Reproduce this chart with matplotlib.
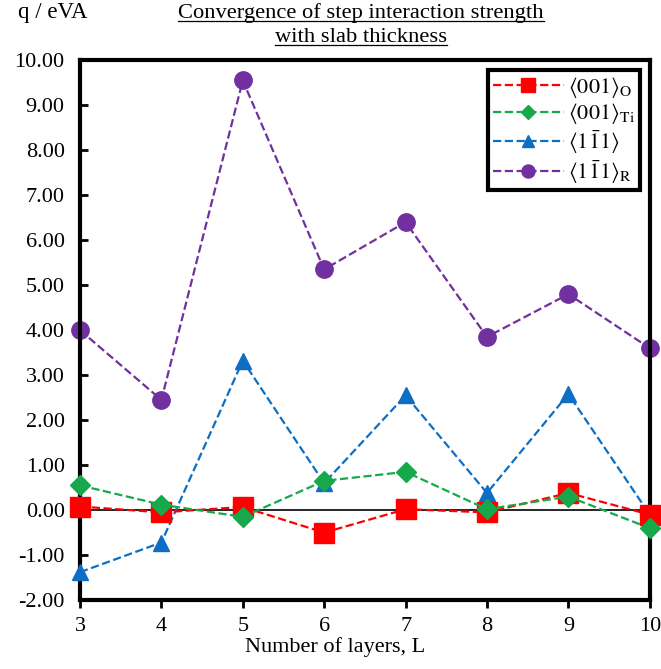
import matplotlib
matplotlib.use('Agg')
import matplotlib.pyplot as plt
from matplotlib.lines import Line2D

layers = [3, 4, 5, 6, 7, 8, 9, 10]
q_001_O = [0.08, -0.05, 0.07, -0.50, 0.02, -0.05, 0.38, -0.10]
q_001_Ti = [0.55, 0.12, -0.15, 0.65, 0.85, 0.02, 0.30, -0.40]
q_1b11 = [-1.38, -0.72, 3.32, 0.60, 2.55, 0.38, 2.58, -0.10]
q_1b11_R = [4.00, 2.45, 9.55, 5.35, 6.40, 3.85, 4.80, 3.60]

labels = [r'$\langle 001\rangle_{\mathrm{O}}$', r'$\langle 001\rangle_{\mathrm{Ti}}$',
          r'$\langle 1\bar{1}1\rangle$', r'$\langle 1\bar{1}1\rangle_{\mathrm{R}}$']
yticks = [-2, -1, 0, 1, 2, 3, 4, 5, 6, 7, 8, 9, 10]

plt.rcParams['font.family'] = ['Liberation Serif', 'DejaVu Serif']
plt.rcParams['mathtext.fontset'] = 'stix'


def main():
    fig = plt.figure(figsize=(6.61, 6.69), dpi=100)
    ax = fig.add_axes([0.121, 0.103, 0.862, 0.807])

    ax.axhline(0, color='black', lw=1.2, zorder=1)
    ax.plot(layers, q_001_O, ls='--', color='#ff0000', marker='s', ms=14, lw=1.6, label=labels[0], zorder=4)
    ax.plot(layers, q_001_Ti, ls='--', color='#16a84a', marker='D', ms=10, lw=1.6, label=labels[1], zorder=5)
    ax.plot(layers, q_1b11, ls='--', color='#0d6fc4', marker='^', ms=12, lw=1.6, label=labels[2], zorder=3)
    ax.plot(layers, q_1b11_R, ls='--', color='#7030a0', marker='o', ms=12.5, lw=1.6, label=labels[3], zorder=2)

    ax.set_xlim(3, 10)
    ax.set_ylim(-2, 10)
    ax.set_xticks(layers)
    ax.set_yticks(yticks)
    ax.set_yticklabels(['%.2f' % v for v in yticks])
    ax.tick_params(axis='y', direction='in', length=6, width=2, labelsize=16, pad=11)
    ax.tick_params(axis='x', direction='out', length=6, width=2, labelsize=16, pad=6)
    for s in ax.spines.values():
        s.set_linewidth(3)
    for line in ax.lines:
        line.set_clip_on(False)

    ax.set_xlabel('Number of layers, L', fontsize=16, va='center')
    ax.xaxis.set_label_coords(0.447, -0.087)
    fig.text(0.027, 0.982, 'q / eVA', fontsize=16.5, va='center', ha='left')

    t1 = fig.text(0.546, 0.980, 'Convergence of step interaction strength', fontsize=16.2, ha='center', va='center')
    t2 = fig.text(0.546, 0.944, 'with slab thickness', fontsize=16.2, ha='center', va='center')

    leg = ax.legend(loc='upper right', fontsize=16, handlelength=3.2, handletextpad=0.2,
                    borderpad=0.2, borderaxespad=0.45, labelspacing=0.08,
                    fancybox=False, framealpha=1, edgecolor='black', markerscale=0.75)
    leg.get_frame().set_linewidth(3)

    # underline the title lines
    fig.canvas.draw()
    r = fig.canvas.get_renderer()
    for t in (t1, t2):
        bb = t.get_window_extent(r).transformed(fig.transFigure.inverted())
        fig.add_artist(Line2D([bb.x0, bb.x1], [bb.y0 + 0.003, bb.y0 + 0.003],
                              color='black', lw=0.9, transform=fig.transFigure))

    fig.savefig('out.png')


if __name__ == "__main__":
    main()
